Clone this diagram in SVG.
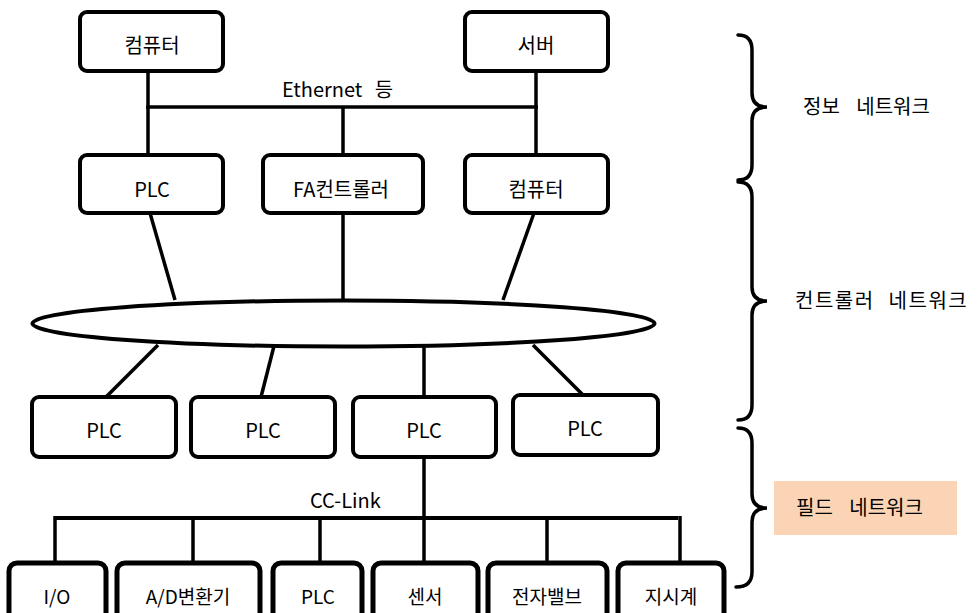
<svg xmlns="http://www.w3.org/2000/svg" width="979" height="613" viewBox="0 0 979 613">
<style>
.box{fill:#fff;stroke:#000;stroke-width:4}
.bbox{fill:#fff;stroke:#000;stroke-width:5}
.ln{stroke:#000;stroke-width:3.5;fill:none}
.br{stroke:#000;stroke-width:3.5;fill:none;stroke-linecap:round}
text{font-family:"Noto Sans CJK KR","Noto Sans",sans-serif;font-size:20px;fill:#000}
.c{text-anchor:middle}
.bt{font-size:19px}
</style>
<rect width="979" height="613" fill="#fff"/>
<g id="connectors">
<line class="ln" x1="148" y1="71" x2="148" y2="155"/>
<line class="ln" x1="146" y1="107" x2="538" y2="107"/>
<line class="ln" x1="536" y1="71" x2="536" y2="155"/>
<line class="ln" x1="343" y1="107" x2="343" y2="155"/>
<line class="ln" x1="150" y1="213" x2="175" y2="300"/>
<line class="ln" x1="343" y1="213" x2="343" y2="300"/>
<line class="ln" x1="534" y1="213" x2="503" y2="300"/>
<line class="ln" x1="158" y1="345" x2="106" y2="397"/>
<line class="ln" x1="274" y1="346" x2="261" y2="397"/>
<line class="ln" x1="424" y1="347" x2="424" y2="397"/>
<line class="ln" x1="533" y1="345" x2="583" y2="395"/>
<line class="ln" x1="424" y1="457" x2="424" y2="563"/>
<line class="ln" x1="55" y1="518" x2="678" y2="518" style="stroke-width:4"/>
<line class="ln" x1="55" y1="516" x2="55" y2="563"/>
<line class="ln" x1="193" y1="516" x2="193" y2="563"/>
<line class="ln" x1="320" y1="516" x2="320" y2="563"/>
<line class="ln" x1="547" y1="516" x2="547" y2="563"/>
<line class="ln" x1="680" y1="516" x2="680" y2="563"/>
<text x="282" y="97" style="word-spacing:8px">Ethernet 등</text>
<text x="310" y="508">CC-Link</text>
</g>
<g id="net-ellipse"><ellipse cx="343.5" cy="323.5" rx="311" ry="23" fill="#fff" stroke="#000" stroke-width="4"/></g>
<g id="pc1"><rect class="box" x="80" y="12" width="143" height="59" rx="7"/><text class="c" x="152" y="53">컴퓨터</text></g>
<g id="server"><rect class="box" x="465" y="12" width="143" height="59" rx="7"/><text class="c" x="536" y="53">서버</text></g>
<g id="plc-top"><rect class="box" x="80" y="155" width="143" height="58" rx="7"/><text class="c" x="152" y="197">PLC</text></g>
<g id="fa"><rect class="box" x="263" y="155" width="160" height="58" rx="7"/><text class="c" x="341" y="197">FA컨트롤러</text></g>
<g id="pc2"><rect class="box" x="465" y="155" width="143" height="58" rx="7"/><text class="c" x="536" y="197">컴퓨터</text></g>
<g id="plc1"><rect class="box" x="32" y="397" width="144" height="60" rx="7"/><text class="c" x="104" y="438">PLC</text></g>
<g id="plc2"><rect class="box" x="191" y="397" width="144" height="60" rx="7"/><text class="c" x="263" y="438">PLC</text></g>
<g id="plc3"><rect class="box" x="353" y="397" width="143" height="60" rx="7"/><text class="c" x="424" y="438">PLC</text></g>
<g id="plc4"><rect class="box" x="513" y="395" width="145" height="60" rx="7"/><text class="c" x="585" y="436">PLC</text></g>
<g id="io"><rect class="bbox" x="9" y="563" width="97" height="70" rx="8"/><text class="c bt" x="57" y="604">I/O</text></g>
<g id="ad"><rect class="bbox" x="117" y="563" width="143" height="70" rx="8"/><text class="c bt" x="188" y="604">A/D변환기</text></g>
<g id="plc5"><rect class="bbox" x="273" y="563" width="89" height="70" rx="8"/><text class="c bt" x="318" y="604">PLC</text></g>
<g id="sensor"><rect class="bbox" x="373" y="563" width="105" height="70" rx="8"/><text class="c bt" x="425" y="604">센서</text></g>
<g id="valve"><rect class="bbox" x="488" y="563" width="119" height="70" rx="8"/><text class="c bt" x="547" y="604">전자밸브</text></g>
<g id="meter"><rect class="bbox" x="618" y="563" width="106" height="70" rx="8"/><text class="c bt" x="671" y="604">지시계</text></g>
<g id="brace-info">
<path class="br" d="M738,35 Q752,35 752,50 L752,93 Q752,107 767,107 Q752,107 752,121 L752,165 Q752,180 738,180"/>
<text x="803" y="114" style="word-spacing:12px">정보 네트워크</text>
</g>
<g id="brace-ctrl">
<path class="br" d="M738,182 Q752,182 752,197 L752,287 Q752,301 767,301 Q752,301 752,315 L752,405 Q752,420 738,420"/>
<text x="795" y="308" style="letter-spacing:1.5px;word-spacing:8px">컨트롤러 네트워크</text>
</g>
<g id="brace-field">
<path class="br" d="M738,428 Q752,428 752,443 L752,494 Q752,508 767,508 Q752,508 752,522 L752,572 Q752,587 736,587"/>
<rect x="774" y="481" width="183" height="54" fill="#fad4b4"/>
<text x="796" y="515" style="word-spacing:12px">필드 네트워크</text>
</g>
</svg>
